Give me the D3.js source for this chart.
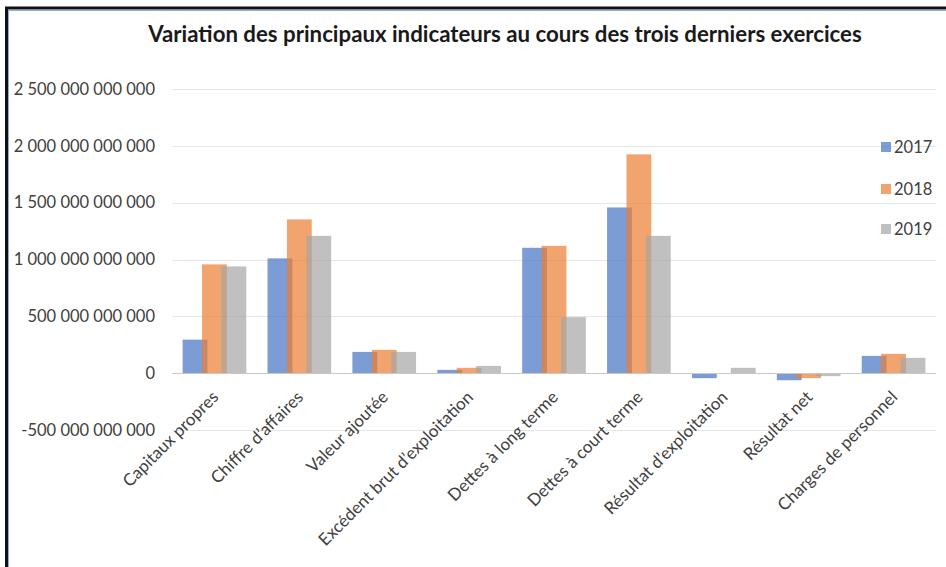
<!DOCTYPE html>
<html><head><meta charset="utf-8">
<script src="https://cdn.jsdelivr.net/npm/d3@7"></script>
<style>
html,body{margin:0;padding:0;background:#fff;}
svg{display:block;font-family:Lato,"Open Sans",sans-serif;}
</style></head>
<body><svg id="c" width="946" height="567"></svg>
<script>
const categories = ["Capitaux propres","Chiffre d\u2019affaires","Valeur ajout\u00e9e","Exc\u00e9dent brut d\u2019exploitation","Dettes \u00e0 long terme","Dettes \u00e0 court terme","R\u00e9sultat d\u2019exploitation","R\u00e9sultat net","Charges de personnel"];
const years = ["2017","2018","2019"];
const v2017 = [295e9, 1010e9, 187e9, 29e9, 1103e9, 1458e9, -44e9, -62e9, 152e9];
const v2018 = [957e9, 1353e9, 205e9, 47e9, 1120e9, 1925e9, 0, -44e9, 170e9];
const v2019 = [939e9, 1208e9, 187e9, 64e9, 493e9, 1208e9, 47e9, -26e9, 135e9];
const yTicks = [-500e9, 0, 500e9, 1000e9, 1500e9, 2000e9, 2500e9];
const title = "Variation des principaux indicateurs au cours des trois derniers exercices";
const colors = ["#4472C4","#ED7D31","#A5A5A5"];
const series = [v2017, v2018, v2019];

const svg = d3.select("#c");
// frame
svg.append("rect").attr("x",8.5).attr("y",10.5).attr("width",946).attr("height",600).attr("fill","none").attr("stroke","#8EA9DB").attr("stroke-width",1);
svg.append("line").attr("x1",5).attr("x2",946).attr("y1",8).attr("y2",8).attr("stroke","#111").attr("stroke-width",3);
svg.append("line").attr("x1",6.5).attr("x2",6.5).attr("y1",7).attr("y2",567).attr("stroke","#111").attr("stroke-width",3);

const y = d3.scaleLinear().domain([-500e9, 2500e9]).range([430, 89]);
const x = d3.scaleBand().domain(categories).range([172, 936]).paddingInner(0.25).paddingOuter(0.125);
const bw = x.bandwidth();
const w = bw*0.39, s = (bw - w)/2;

const fmt = v => d3.format(",.0f")(v).replace(/,/g, " ").replace("\u2212","-");

// gridlines
svg.append("g").selectAll("line").data(yTicks.filter(t=>t!==0)).join("line")
  .attr("x1",172).attr("x2",936).attr("y1",d=>Math.round(y(d))+0.5).attr("y2",d=>Math.round(y(d))+0.5)
  .attr("stroke","#E6E6E6").attr("stroke-width",1);

// y labels
svg.append("g").selectAll("text").data(yTicks).join("text")
  .attr("x",155).attr("y",d=>y(d)).attr("dy","0.35em").attr("text-anchor","end")
  .attr("font-size",16.5).attr("fill","#404040").text(d=>fmt(d));

// bars
series.forEach((vals,i)=>{
  svg.append("g").selectAll("rect").data(vals).join("rect")
    .attr("x",(d,j)=>x(categories[j]) + i*s)
    .attr("width",w)
    .attr("y",d=>Math.min(y(d),y(0)))
    .attr("height",d=>Math.abs(y(d)-y(0)))
    .attr("fill",colors[i]).attr("fill-opacity",0.7);
});

// zero axis
svg.append("line").attr("x1",172).attr("x2",936).attr("y1",Math.round(y(0))+0.5).attr("y2",Math.round(y(0))+0.5).attr("stroke","#C8C8C8").attr("stroke-width",1.2);

// x labels
svg.append("g").selectAll("text").data(categories).join("text")
  .attr("transform",d=>`translate(${x(d)+bw/2+5},${y(0)+25}) rotate(-45)`)
  .attr("text-anchor","end").attr("font-size",17).attr("fill","#404040").text(d=>d);

// title
const t = svg.append("text").attr("x",505).attr("y",42).attr("text-anchor","middle")
  .attr("font-weight","bold").attr("font-size",17).attr("fill","#1a1a1a").text(title);
const tl = t.node().getComputedTextLength();
t.attr("font-size", 17*714/tl);

// legend
const ly = [147,189,229];
years.forEach((yr,i)=>{
  svg.append("rect").attr("x",881).attr("y",ly[i]-5).attr("width",10).attr("height",10).attr("fill",colors[i]).attr("fill-opacity",0.7);
  svg.append("text").attr("x",894).attr("y",ly[i]).attr("dy","0.35em").attr("font-size",16.5).attr("fill","#404040").text(yr);
});
</script></body></html>
